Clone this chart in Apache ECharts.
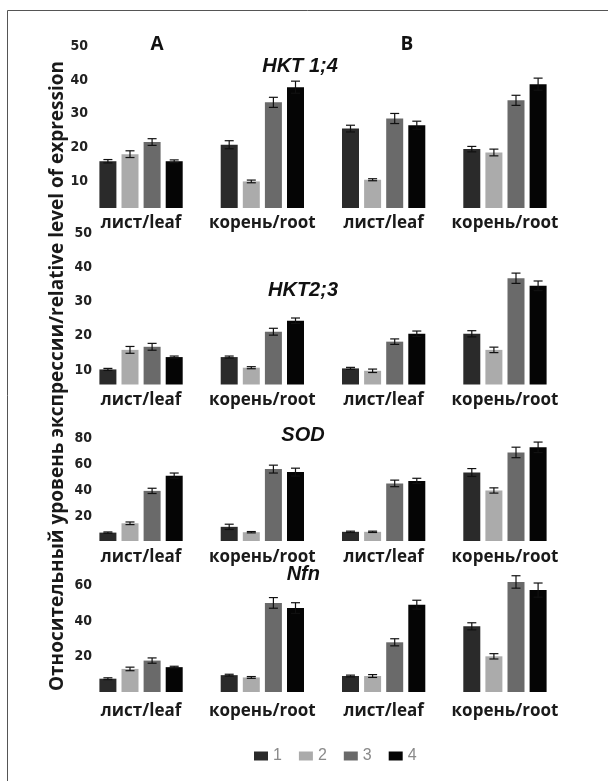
<!DOCTYPE html>
<html><head><meta charset="utf-8">
<script src="https://cdn.jsdelivr.net/npm/echarts@6/dist/echarts.min.js"></script>
<style>html,body{margin:0;padding:0;background:#fff}#c{width:609px;height:781px}</style>
</head><body><div id="c"></div>
<script>
// ---------- data ----------
const categories = ['лист/leaf', 'корень/root', 'лист/leaf', 'корень/root'];
const seriesNames = ['1', '2', '3', '4'];
const geneNames = ['HKT 1;4', 'HKT2;3', 'SOD', 'Nfn'];
const panelLabels = ['A', 'B'];
// values: one row per series (1..4), one column per category
const hkt14Values = [[15.9, 20.8, 25.6, 19.5], [18.0, 9.9, 10.4, 18.5], [21.6, 33.4, 28.6, 34.0], [15.9, 37.9, 26.6, 38.8]];
const hkt14Errors = [[0.5, 1.2, 1.0, 0.8], [1.0, 0.4, 0.3, 1.0], [1.0, 1.5, 1.5, 1.5], [0.4, 1.8, 1.2, 1.8]];
const hkt23Values = [[10.2, 13.8, 10.5, 20.6], [15.9, 10.7, 9.8, 15.9], [16.8, 21.2, 18.3, 36.8], [13.8, 24.4, 20.6, 34.6]];
const hkt23Errors = [[0.3, 0.3, 0.3, 0.9], [1.0, 0.3, 0.5, 0.8], [1.0, 1.0, 0.8, 1.5], [0.3, 0.8, 0.8, 1.4]];
const sodValues = [[7.9, 12.3, 8.5, 53.7], [15.0, 8.2, 8.5, 40.0], [39.7, 56.3, 45.4, 69.0], [51.3, 54.0, 47.3, 72.9]];
const sodErrors = [[0.5, 2.0, 0.5, 3.0], [1.0, 0.5, 0.5, 2.0], [2.0, 3.0, 2.5, 4.0], [2.0, 3.0, 2.0, 4.0]];
const nfnValues = [[7.5, 9.5, 9.0, 37.0], [13.0, 8.2, 9.0, 20.1], [17.7, 50.2, 28.0, 62.0], [14.0, 47.3, 49.2, 57.4]];
const nfnErrors = [[0.5, 0.5, 0.5, 2.0], [1.0, 0.5, 0.8, 1.5], [1.5, 3.0, 2.0, 3.5], [0.5, 3.0, 2.5, 4.0]];
const hkt14Ticks = [10, 20, 30, 40, 50];
const hkt23Ticks = [10, 20, 30, 40, 50];
const sodTicks = [20, 40, 60, 80];
const nfnTicks = [20, 40, 60];

// ---------- layout / style ----------
const rows = [
  { values: hkt14Values, errors: hkt14Errors, ticks: hkt14Ticks, min: 2, max: 50, top: 46.5, bottom: 208, labelMargin: 6.5, yLabelRight: 88 },
  { values: hkt23Values, errors: hkt23Errors, ticks: hkt23Ticks, min: 5.8, max: 50, top: 233, bottom: 384.5, labelMargin: 7, yLabelRight: 92 },
  { values: sodValues, errors: sodErrors, ticks: sodTicks, min: 1.5, max: 80, top: 438, bottom: 541, labelMargin: 7.5, yLabelRight: 92 },
  { values: nfnValues, errors: nfnErrors, ticks: nfnTicks, min: 0, max: 70, top: 567.75, bottom: 692, labelMargin: 11, yLabelRight: 92 }
];
const colors = ['#2a2a2a', '#ababab', '#6a6a6a', '#050505'];
const GRID_LEFT = 80.4, GRID_WIDTH = 485.2;
const BAR_W = 17, BAR_GAP = 0.3;
const tickFont = '"Liberation Sans Narrow", "DejaVu Sans Condensed", "Liberation Sans", sans-serif';
const labelFont = '"Open Sans", "DejaVu Sans", sans-serif';

const grid = [], xAxis = [], yAxis = [], series = [];
rows.forEach((r, i) => {
  grid.push({ left: GRID_LEFT, width: GRID_WIDTH, top: r.top, height: r.bottom - r.top, outerBoundsMode: 'none', containLabel: false });
  xAxis.push({
    type: 'category', gridIndex: i, data: categories,
    axisLine: { show: false }, axisTick: { show: false }, splitLine: { show: false },
    axisLabel: { margin: r.labelMargin, fontFamily: labelFont, fontWeight: 'bold', fontSize: 17, color: '#1a1a1a', interval: 0 }
  });
  yAxis.push({
    type: 'value', gridIndex: i, min: r.min, max: r.max,
    axisLine: { show: false }, axisTick: { show: false }, splitLine: { show: false },
    axisLabel: { customValues: r.ticks, margin: GRID_LEFT - r.yLabelRight, fontFamily: tickFont, fontWeight: 'bold', fontSize: 14, color: '#222' }
  });
  r.values.forEach((vals, s) => {
    series.push({
      type: 'bar', name: seriesNames[s], xAxisIndex: i, yAxisIndex: i,
      data: vals, barWidth: BAR_W, barGap: (BAR_GAP * 100) + '%',
      itemStyle: { color: colors[s] }, silent: true, z: 2
    });
  });
  const errData = [];
  r.values.forEach((vals, s) => vals.forEach((v, c) => errData.push([c, s, v, r.errors[s][c]])));
  series.push({
    type: 'custom', name: 'err' + i, xAxisIndex: i, yAxisIndex: i, z: 5, silent: true,
    encode: { x: 0, y: 2 }, data: errData,
    renderItem: function (params, api) {
      const c = api.value(0), s = api.value(1), v = api.value(2), e = api.value(3);
      const off = (s - 1.5) * BAR_W * (1 + BAR_GAP);
      const t = api.coord([c, v + e]);
      const b = api.coord([c, v - e]);
      const x = t[0] + off, hw = 4.5;
      const st = { stroke: '#111', lineWidth: 1.2 };
      return { type: 'group', children: [
        { type: 'line', shape: { x1: x, y1: t[1], x2: x, y2: b[1] }, style: st },
        { type: 'line', shape: { x1: x - hw, y1: t[1], x2: x + hw, y2: t[1] }, style: st },
        { type: 'line', shape: { x1: x - hw, y1: b[1], x2: x + hw, y2: b[1] }, style: st }
      ] };
    }
  });
});

const titleFont = '"Liberation Sans", Arial, sans-serif';
const graphic = [
  { type: 'polyline', shape: { points: [[7.5, 781], [7.5, 10.5], [608, 10.5]] }, style: { stroke: '#555', lineWidth: 1, fill: null }, silent: true },
  { type: 'text', x: 157, y: 45, style: { text: panelLabels[0], font: 'bold 19px ' + labelFont, fill: '#111', align: 'center', verticalAlign: 'middle' } },
  { type: 'text', x: 407, y: 45, style: { text: panelLabels[1], font: 'bold 19px ' + labelFont, fill: '#111', align: 'center', verticalAlign: 'middle' } },
  { type: 'text', x: 300, y: 66, style: { text: geneNames[0], font: 'italic bold 20px ' + titleFont, fill: '#111', align: 'center', verticalAlign: 'middle' } },
  { type: 'text', x: 303, y: 290, style: { text: geneNames[1], font: 'italic bold 20px ' + titleFont, fill: '#111', align: 'center', verticalAlign: 'middle' } },
  { type: 'text', x: 303, y: 435, style: { text: geneNames[2], font: 'italic bold 20px ' + titleFont, fill: '#111', align: 'center', verticalAlign: 'middle' } },
  { type: 'text', x: 320, y: 574, style: { text: geneNames[3], font: 'italic bold 20px ' + titleFont, fill: '#111', align: 'right', verticalAlign: 'middle' } },
  { type: 'text', x: 58, y: 376, rotation: Math.PI / 2, style: { text: 'Относительный уровень экспрессии/relative level of expression', font: 'bold 19px ' + labelFont, fill: '#1a1a1a', align: 'center', verticalAlign: 'middle' } }
];

const chart = echarts.init(document.getElementById('c'), null, { renderer: 'canvas' });
chart.setOption({
  animation: false,
  backgroundColor: '#fff',
  grid, xAxis, yAxis, series, graphic,
  legend: {
    data: seriesNames, left: 249, top: 743, icon: 'rect', itemWidth: 14, itemHeight: 9, itemGap: 17,
    selectedMode: false, textStyle: { color: '#8a8a8a', fontSize: 16, fontFamily: titleFont }
  }
});
</script></body></html>
